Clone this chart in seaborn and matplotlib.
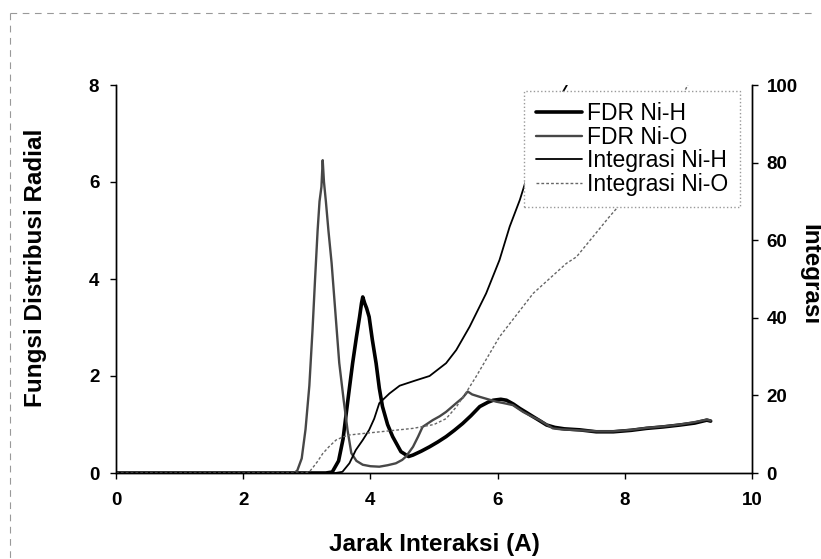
import matplotlib
matplotlib.use("Agg")
import matplotlib.pyplot as plt
import seaborn as sns
from matplotlib.lines import Line2D

# Radial distribution function, Ni-H
r_nih = [0.0, 3.30, 3.40, 3.50, 3.57, 3.62, 3.67, 3.72, 3.78, 3.83, 3.86, 3.88, 3.91,
         3.94, 3.98, 4.03, 4.09, 4.14, 4.19, 4.27, 4.35, 4.48, 4.60, 4.67, 4.80, 4.93,
         5.06, 5.19, 5.32, 5.45, 5.58, 5.72, 5.85, 5.93, 6.05, 6.14, 6.25, 6.35, 6.45,
         6.56, 6.66, 6.77, 6.90, 7.05, 7.29, 7.55, 7.82, 8.10, 8.34, 8.60, 8.87, 9.10,
         9.29, 9.35]
g_nih = [0.0, 0.0, 0.02, 0.25, 0.70, 1.23, 1.75, 2.26, 2.80, 3.22, 3.50, 3.63, 3.50,
         3.40, 3.22, 2.75, 2.26, 1.75, 1.37, 1.00, 0.75, 0.44, 0.34, 0.37, 0.45, 0.54,
         0.64, 0.75, 0.88, 1.02, 1.18, 1.37, 1.46, 1.50, 1.52, 1.50, 1.42, 1.33, 1.25,
         1.16, 1.08, 0.99, 0.94, 0.91, 0.89, 0.85, 0.85, 0.88, 0.92, 0.95, 0.99, 1.03,
         1.09, 1.07]

# Radial distribution function, Ni-O
r_nio = [0.0, 2.80, 2.85, 2.92, 2.98, 3.04, 3.09, 3.13, 3.17, 3.20, 3.23, 3.25, 3.27,
         3.30, 3.34, 3.39, 3.45, 3.51, 3.58, 3.64, 3.70, 3.78, 3.88, 4.00, 4.14, 4.27,
         4.40, 4.50, 4.56, 4.67, 4.75, 4.82, 4.98, 5.09, 5.19, 5.27, 5.35, 5.45, 5.53,
         5.60, 5.72, 5.85, 5.98, 6.10, 6.24, 6.32, 6.40, 6.53, 6.66, 6.77, 6.87, 7.00,
         7.29, 7.55, 7.82, 8.10, 8.34, 8.60, 8.87, 9.10, 9.29, 9.35]
g_nio = [0.0, 0.0, 0.05, 0.30, 0.90, 1.80, 2.95, 4.00, 5.00, 5.60, 5.90, 6.45, 6.00,
         5.60, 5.00, 4.33, 3.30, 2.27, 1.50, 0.89, 0.41, 0.25, 0.17, 0.14, 0.13, 0.16,
         0.20, 0.27, 0.34, 0.54, 0.75, 0.95, 1.09, 1.17, 1.26, 1.35, 1.44, 1.55, 1.68,
         1.62, 1.57, 1.52, 1.47, 1.44, 1.40, 1.33, 1.26, 1.17, 1.09, 1.00, 0.92, 0.90,
         0.88, 0.86, 0.86, 0.89, 0.93, 0.96, 1.00, 1.05, 1.10, 1.08]

# Running coordination number, Ni-H
r_int_nih = [0.0, 3.45, 3.56, 3.67, 3.77, 3.88, 3.98, 4.06, 4.14, 4.30, 4.46, 4.70,
             4.93, 5.19, 5.35, 5.56, 5.82, 6.03, 6.19, 6.35, 6.48, 6.70, 6.95, 7.09]
n_nih = [0.0, 0.0, 0.3, 2.5, 5.9, 8.5, 11.1, 14.0, 18.0, 20.5, 22.5, 23.8,
         25.0, 28.3, 31.7, 37.7, 46.3, 54.9, 63.5, 70.4, 77.2, 87.0, 96.0, 100.0]

# Running coordination number, Ni-O
r_int_nio = [0.0, 2.95, 3.04, 3.10, 3.17, 3.25, 3.35, 3.46, 3.57, 3.67, 3.90, 4.14,
             4.67, 5.00, 5.19, 5.35, 5.53, 5.66, 6.03, 6.56, 7.08, 7.24, 7.50, 7.76,
             7.92, 8.50, 8.99]
n_nio = [0.0, 0.0, 0.3, 1.5, 3.0, 5.0, 6.8, 8.5, 9.3, 9.8, 10.2, 10.6,
         11.5, 12.5, 14.0, 17.0, 21.4, 24.8, 35.1, 46.3, 54.0, 55.7, 60.9, 66.1,
         69.1, 84.0, 100.0]

labels = ["FDR Ni-H", "FDR Ni-O", "Integrasi Ni-H", "Integrasi Ni-O"]

sns.set_theme(style="white")
plt.rcParams["font.family"] = ["Liberation Sans", "DejaVu Sans"]
plt.rcParams["text.color"] = "black"
plt.rcParams["axes.labelcolor"] = "black"
plt.rcParams["xtick.color"] = "black"
plt.rcParams["ytick.color"] = "black"

W, H = 821, 559
X0, X1, Y0, Y1 = 116, 752, 85, 473          # plot area in pixels
fig = plt.figure(figsize=(W / 100, H / 100), dpi=100)
ax = fig.add_axes([X0 / W, 1 - Y1 / H, (X1 - X0) / W, (Y1 - Y0) / H])
ax2 = ax.twinx()

sns.lineplot(x=r_nih, y=g_nih, ax=ax, color="black", lw=2.6,
             estimator=None, sort=False, label=labels[0], legend=False)
sns.lineplot(x=r_nio, y=g_nio, ax=ax, color="#474747", lw=1.7,
             estimator=None, sort=False, label=labels[1], legend=False)
sns.lineplot(x=r_int_nih, y=n_nih, ax=ax2, color="black", lw=1.3,
             estimator=None, sort=False, label=labels[2], legend=False)
sns.lineplot(x=r_int_nio, y=n_nio, ax=ax2, color="#666666", lw=1.0,
             linestyle=(0, (2, 1.5)), estimator=None, sort=False,
             label=labels[3], legend=False)

ax.set_xlim(0, 10)
ax.set_ylim(0, 8)
ax2.set_ylim(0, 100)
ax.set_xticks(range(0, 11, 2))
ax.set_yticks(range(0, 9, 2))
ax2.set_yticks(range(0, 101, 20))

for a in (ax, ax2):
    for lab in a.get_xticklabels() + a.get_yticklabels():
        lab.set_fontsize(13.5)
        lab.set_fontweight("bold")
        lab.set_color("black")
    a.spines["top"].set_visible(False)
    for s in ("left", "right", "bottom"):
        a.spines[s].set_color("black")
        a.spines[s].set_linewidth(1.0)

ax.tick_params(axis="y", left=True, direction="out", length=4, width=1,
               pad=8, colors="black")
ax.tick_params(axis="x", bottom=True, direction="out", length=4, width=1,
               pad=10, colors="black")
ax2.tick_params(axis="y", right=True, direction="out", length=4, width=1,
                pad=6.5, colors="black")

label_font = dict(fontsize=17.5, fontweight="bold", color="black")
ax.set_xlabel("Jarak Interaksi (A)", va="center", **label_font)
ax.xaxis.set_label_coords(0.5, -(545 - Y1) / (Y1 - Y0))
ax.set_ylabel("Fungsi Distribusi Radial", va="center", ha="center", **label_font)
ax.yaxis.set_label_coords(-(X0 - 36) / (X1 - X0), 0.53)
ax2.set_ylabel("Integrasi", rotation=270, va="center", ha="center", **label_font)
ax2.yaxis.set_label_coords((810 - X0) / (X1 - X0), 0.51)

h1, l1 = ax.get_legend_handles_labels()
h2, l2 = ax2.get_legend_handles_labels()
leg = ax2.legend(h1 + h2, l1 + l2, loc="upper right",
                 bbox_to_anchor=((740 - X0) / (X1 - X0), (Y1 - 91) / (Y1 - Y0)),
                 fontsize=16.5, frameon=True, fancybox=False, framealpha=1,
                 edgecolor="#999999", handlelength=2.0, handletextpad=0.25,
                 labelspacing=0.02, borderpad=0.5, borderaxespad=0)
leg.get_frame().set_linestyle(":")
leg.get_frame().set_linewidth(1.0)
for t in leg.get_texts():
    t.set_color("black")

# dashed outline of the chart area
fig.add_artist(Line2D([10 / W, 815 / W], [1 - 13 / H] * 2, transform=fig.transFigure,
                      color="#999999", lw=0.8, ls=(0, (6, 5))))
fig.add_artist(Line2D([10 / W] * 2, [1 - 13 / H, 0], transform=fig.transFigure,
                      color="#999999", lw=0.8, ls=(0, (6, 5))))

fig.savefig("out.png", dpi=100)
